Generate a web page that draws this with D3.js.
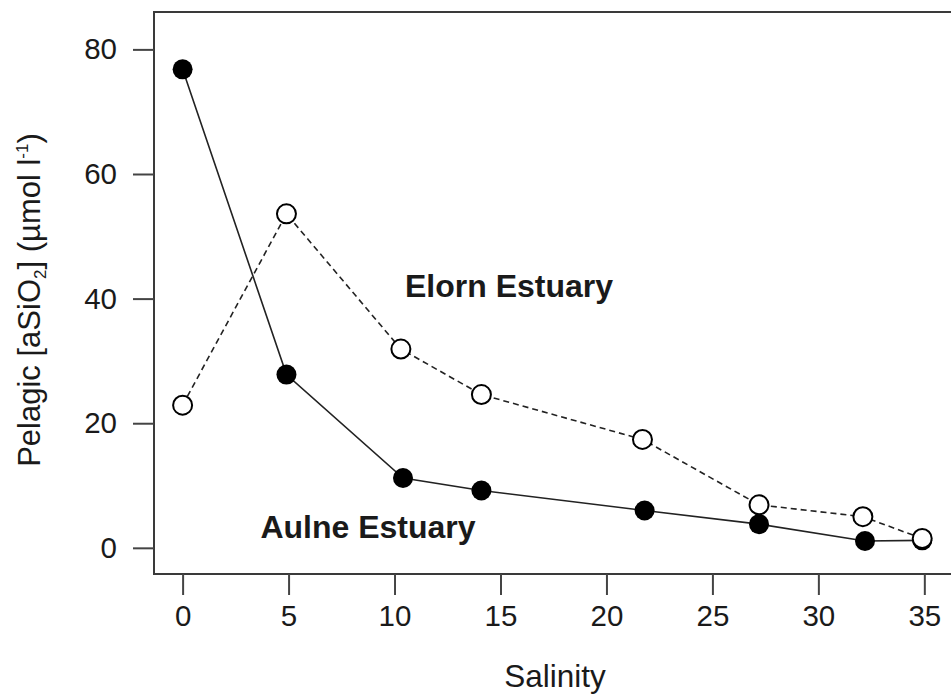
<!DOCTYPE html>
<html>
<head>
<meta charset="utf-8">
<title>Pelagic aSiO2 vs salinity</title>
<script src="https://cdn.jsdelivr.net/npm/d3@7"></script>
<style>
body { margin: 0; background: #fff; }
text { font-family: "Liberation Sans", Arial, Helvetica, sans-serif; fill: #1a1a1a; }
</style>
</head>
<body>
<script>
// salinity / aSiO2 readings taken from the figure
const aulneSalinity = [0, 4.9, 10.4, 14.1, 21.8, 27.2, 32.2, 34.9];
const aulneSiO2     = [76.8, 27.8, 11.2, 9.2, 6.0, 3.8, 1.1, 1.2];
const elornSalinity = [0, 4.9, 10.3, 14.1, 21.7, 27.2, 32.1, 34.9];
const elornSiO2     = [22.9, 53.6, 31.9, 24.6, 17.4, 6.9, 5.0, 1.5];
const xTicks = [0, 5, 10, 15, 20, 25, 30, 35];
const yTicks = [0, 20, 40, 60, 80];

const width = 951, height = 700;
const plotL = 154, plotR = 954, plotT = 12, plotB = 574;

const svg = d3.select("body").append("svg")
    .attr("width", width)
    .attr("height", height);

const x = d3.scaleLinear().domain([-1.35, 36.4]).range([plotL, plotR]);
const y = d3.scaleLinear().domain([-4.2, 86]).range([plotB, plotT]);

// box
svg.append("rect")
    .attr("x", plotL).attr("y", plotT)
    .attr("width", plotR - plotL).attr("height", plotB - plotT)
    .attr("fill", "none")
    .attr("stroke", "#3a3a3a")
    .attr("stroke-width", 2);

// axes
const xAxis = svg.append("g")
    .attr("transform", `translate(0,${plotB})`)
    .call(d3.axisBottom(x).tickValues(xTicks).tickSize(21).tickPadding(10).tickSizeOuter(0));
const yAxis = svg.append("g")
    .attr("transform", `translate(${plotL},0)`)
    .call(d3.axisLeft(y).tickValues(yTicks).tickSize(21).tickPadding(16).tickSizeOuter(0));

[xAxis, yAxis].forEach(g => {
  g.select(".domain").remove();
  g.selectAll(".tick line").attr("stroke", "#444").attr("stroke-width", 2);
  g.selectAll(".tick text")
      .attr("font-size", 29.5)
      .attr("font-family", "Liberation Sans, Arial, sans-serif")
      .attr("fill", "#1a1a1a");
});

// axis titles
svg.append("text")
    .attr("x", 555).attr("y", 687)
    .attr("text-anchor", "middle")
    .attr("font-size", 31.5)
    .text("Salinity");

const yl = svg.append("text")
    .attr("transform", "translate(40,300) rotate(-90)")
    .attr("text-anchor", "middle")
    .attr("font-size", 31);
yl.append("tspan").text("Pelagic [aSiO");
yl.append("tspan").attr("font-size", 17).attr("dy", 6).text("2");
yl.append("tspan").attr("dy", -6).text("] (µmol l");
yl.append("tspan").attr("font-size", 17).attr("dy", -12).text("-1");
yl.append("tspan").attr("dy", 12).text(")");

const line = d3.line().x(d => x(d[0])).y(d => y(d[1]));
const aulne = d3.zip(aulneSalinity, aulneSiO2);
const elorn = d3.zip(elornSalinity, elornSiO2);

// Aulne: solid line, filled circles
svg.append("path")
    .datum(aulne)
    .attr("d", line)
    .attr("fill", "none")
    .attr("stroke", "#222")
    .attr("stroke-width", 1.6);
svg.append("g").selectAll("circle")
    .data(aulne)
    .join("circle")
    .attr("cx", d => x(d[0]))
    .attr("cy", d => y(d[1]))
    .attr("r", 10)
    .attr("fill", "#000");

// Elorn: dashed line, open circles
svg.append("path")
    .datum(elorn)
    .attr("d", line)
    .attr("fill", "none")
    .attr("stroke", "#222")
    .attr("stroke-width", 1.6)
    .attr("stroke-dasharray", "6,4");
svg.append("g").selectAll("circle")
    .data(elorn)
    .join("circle")
    .attr("cx", d => x(d[0]))
    .attr("cy", d => y(d[1]))
    .attr("r", 9.5)
    .attr("fill", "#fff")
    .attr("stroke", "#000")
    .attr("stroke-width", 2);

// series labels
svg.append("text")
    .attr("x", 509).attr("y", 297)
    .attr("text-anchor", "middle")
    .attr("font-size", 32)
    .attr("font-weight", "bold")
    .attr("fill", "#000")
    .text("Elorn Estuary");
svg.append("text")
    .attr("x", 368).attr("y", 538)
    .attr("text-anchor", "middle")
    .attr("font-size", 32)
    .attr("font-weight", "bold")
    .attr("fill", "#000")
    .text("Aulne Estuary");
</script>
</body>
</html>
